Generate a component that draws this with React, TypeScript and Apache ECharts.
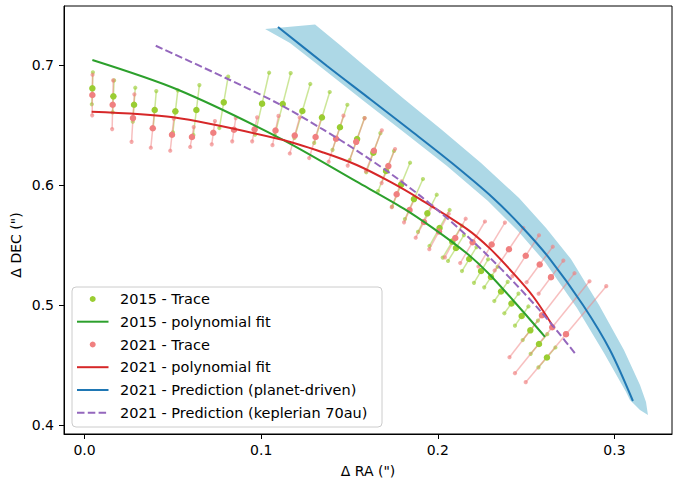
import React, { useEffect, useRef } from 'react';
import * as echarts from 'echarts';

// ---- 2015 trace ----
const trace2015X = [0.0044, 0.0163, 0.0280, 0.0397, 0.0514, 0.0633, 0.0788, 0.1005, 0.1122, 0.1233, 0.1344, 0.1446, 0.1543, 0.1635, 0.1707, 0.1792, 0.1865, 0.1941, 0.2010, 0.2082, 0.2103, 0.2178, 0.2245, 0.2301, 0.2358, 0.2417, 0.2475, 0.2524, 0.2573, 0.2618];
const trace2015Y = [0.6806, 0.6739, 0.6669, 0.6625, 0.6614, 0.6625, 0.6689, 0.6678, 0.6675, 0.6617, 0.6563, 0.6481, 0.6383, 0.6269, 0.6117, 0.6003, 0.5883, 0.5764, 0.5642, 0.5528, 0.5475, 0.5383, 0.5283, 0.5233, 0.5113, 0.5013, 0.4908, 0.4789, 0.4675, 0.4563];
const trace2015ErrX = [0.0003, 0.0004, 0.0007, 0.0009, 0.0014, 0.0017, 0.0025, 0.0040, 0.0045, 0.0045, 0.0044, 0.0042, 0.0042, 0.0040, 0.0045, 0.0051, 0.0051, 0.0053, 0.0057, 0.0054, 0.0045, 0.0041, 0.0040, 0.0038, 0.0038, 0.0040, 0.0038, 0.0043, 0.0047, 0.0048];
const trace2015ErrY = [0.0133, 0.0133, 0.0142, 0.0158, 0.0175, 0.0208, 0.0214, 0.0258, 0.0258, 0.0225, 0.0212, 0.0188, 0.0175, 0.0163, 0.0167, 0.0183, 0.0167, 0.0155, 0.0150, 0.0133, 0.0108, 0.0100, 0.0098, 0.0086, 0.0080, 0.0082, 0.0080, 0.0081, 0.0082, 0.0083];

// ---- 2021 trace ----
const trace2021X = [0.0044, 0.0159, 0.0274, 0.0386, 0.0495, 0.0608, 0.0729, 0.0846, 0.0963, 0.1081, 0.1190, 0.1308, 0.1424, 0.1538, 0.1638, 0.1720, 0.1767, 0.1840, 0.1922, 0.2007, 0.2099, 0.2197, 0.2305, 0.2403, 0.2498, 0.2577, 0.2641, 0.2590, 0.2648, 0.2726];
const trace2021Y = [0.6750, 0.6669, 0.6558, 0.6473, 0.6419, 0.6400, 0.6436, 0.6461, 0.6464, 0.6454, 0.6413, 0.6400, 0.6386, 0.6360, 0.6286, 0.6158, 0.5923, 0.5792, 0.5692, 0.5613, 0.5558, 0.5523, 0.5504, 0.5465, 0.5411, 0.5338, 0.5232, 0.4915, 0.4815, 0.4757];
const trace2021ErrX = [0.0001, 0.0003, 0.0008, 0.0011, 0.0010, 0.0010, 0.0009, 0.0010, 0.0014, 0.0017, 0.0028, 0.0036, 0.0042, 0.0048, 0.0045, 0.0038, 0.0028, 0.0031, 0.0047, 0.0055, 0.0059, 0.0070, 0.0075, 0.0081, 0.0075, 0.0074, 0.0070, 0.0184, 0.0211, 0.0228];
const trace2021ErrY = [0.0169, 0.0203, 0.0198, 0.0162, 0.0133, 0.0083, 0.0097, 0.0097, 0.0100, 0.0122, 0.0150, 0.0175, 0.0192, 0.0198, 0.0170, 0.0142, 0.0108, 0.0103, 0.0131, 0.0148, 0.0161, 0.0173, 0.0183, 0.0177, 0.0170, 0.0148, 0.0138, 0.0350, 0.0383, 0.0400];

// ---- polynomial fits ----
const fit2015X = [0.0044, 0.0522, 0.1107, 0.1541, 0.1805, 0.1975, 0.2164, 0.2296, 0.2466, 0.2607];
const fit2015Y = [0.7042, 0.6798, 0.6389, 0.6028, 0.5806, 0.5639, 0.5431, 0.5250, 0.4973, 0.4735];
const fit2021X = [0.0040, 0.0502, 0.1107, 0.1352, 0.1541, 0.1729, 0.1899, 0.2164, 0.2296, 0.2428, 0.2541, 0.2654];
const fit2021Y = [0.6611, 0.6564, 0.6381, 0.6271, 0.6167, 0.6028, 0.5883, 0.5635, 0.5470, 0.5264, 0.5069, 0.4819];

// ---- predictions ----
const keplerX = [0.0403, 0.0805, 0.1097, 0.1352, 0.1541, 0.1729, 0.1890, 0.2013, 0.2164, 0.2296, 0.2428, 0.2579, 0.2673, 0.2787];
const keplerY = [0.7161, 0.6888, 0.6678, 0.6461, 0.6287, 0.6099, 0.5922, 0.5774, 0.5578, 0.5393, 0.5195, 0.4953, 0.4789, 0.4578];
const planetX = [0.1095, 0.1373, 0.1616, 0.1843, 0.2080, 0.2313, 0.2482, 0.2635, 0.2822, 0.2975, 0.3105];
const planetY = [0.7317, 0.6992, 0.6717, 0.6458, 0.6183, 0.5892, 0.5642, 0.5383, 0.5000, 0.4625, 0.4200];

// uncertainty band of the planet-driven prediction (outline: top edge, outer edge down, inner edge up)
const bandX = [0.1022, 0.1305, 0.1446, 0.1576, 0.1809, 0.2024, 0.2245, 0.2460, 0.2613, 0.2754, 0.2913, 0.3054, 0.3145, 0.3179, 0.3190, 0.3145, 0.3088, 0.3066, 0.2941, 0.2788, 0.2607, 0.2454, 0.2284, 0.2052, 0.1814, 0.1588, 0.1344, 0.1163];
const bandY = [0.7300, 0.7338, 0.7167, 0.7004, 0.6717, 0.6458, 0.6183, 0.5892, 0.5642, 0.5383, 0.5000, 0.4625, 0.4333, 0.4192, 0.4083, 0.4125, 0.4208, 0.4275, 0.4600, 0.4975, 0.5358, 0.5617, 0.5867, 0.6158, 0.6433, 0.6692, 0.6975, 0.7183];

const xTicks = [0.0, 0.1, 0.2, 0.3];
const yTicks = [0.4, 0.5, 0.6, 0.7];

const legendLabels = [
  '2015 - Trace',
  '2015 - polynomial fit',
  '2021 - Trace',
  '2021 - polynomial fit',
  '2021 - Prediction (planet-driven)',
  '2021 - Prediction (keplerian 70au)',
];

const C_G_TRACE = '#9acd32';
const C_R_TRACE = '#f08080';
const C_G_FIT = '#2ca02c';
const C_R_FIT = '#d62728';
const C_BLUE = '#1f77b4';
const C_PURPLE = '#9467bd';
const C_BAND = '#add8e6';
const FONT = 'DejaVu Sans';

function zip(xs: number[], ys: number[]) {
  return xs.map((x, i) => [x, ys[i]]);
}

function errorBars(name: string, xs: number[], ys: number[], ex: number[], ey: number[], color: string) {
  return {
    type: 'custom',
    name,
    silent: true,
    z: 2,
    encode: { x: 0, y: 1 },
    data: xs.map((x, i) => [x, ys[i], ex[i], ey[i]]),
    renderItem: (params: any, api: any) => {
      const x = api.value(0);
      const y = api.value(1);
      const dx = api.value(2);
      const dy = api.value(3);
      const a = api.coord([x - dx, y - dy]);
      const b = api.coord([x + dx, y + dy]);
      return {
        type: 'group',
        children: [
          { type: 'line', shape: { x1: a[0], y1: a[1], x2: b[0], y2: b[1] }, style: { stroke: color, lineWidth: 1.5, opacity: 0.5 } },
          { type: 'circle', shape: { cx: a[0], cy: a[1], r: 2.1 }, style: { fill: color, opacity: 0.65 } },
          { type: 'circle', shape: { cx: b[0], cy: b[1], r: 2.1 }, style: { fill: color, opacity: 0.65 } },
        ],
      };
    },
  };
}

function legendGraphic() {
  const rowY = [12, 34.7, 57.5, 80.2, 103, 125.7];
  const children: any[] = [
    { type: 'rect', shape: { x: 0, y: 0, width: 310, height: 140, r: 4 }, style: { fill: 'rgba(255,255,255,0.8)', stroke: '#cccccc', lineWidth: 1 } },
  ];
  const kinds = [
    { k: 'dot', c: C_G_TRACE },
    { k: 'line', c: C_G_FIT },
    { k: 'dot', c: C_R_TRACE },
    { k: 'line', c: C_R_FIT },
    { k: 'line', c: C_BLUE },
    { k: 'dash', c: C_PURPLE },
  ];
  kinds.forEach((it, i) => {
    const y = rowY[i];
    if (it.k === 'dot') {
      children.push({ type: 'circle', shape: { cx: 20.7, cy: y, r: 3 }, style: { fill: it.c } });
    } else {
      children.push({
        type: 'line',
        shape: { x1: 5, y1: y, x2: 36.5, y2: y },
        style: { stroke: it.c, lineWidth: 2, lineDash: it.k === 'dash' ? [7.5, 3.3] : null },
      });
    }
    children.push({
      type: 'text',
      x: 48,
      y,
      style: { text: legendLabels[i], fill: '#000', fontSize: 14.5, fontFamily: FONT, verticalAlign: 'middle', align: 'left' },
    });
  });
  return { type: 'group', x: 72, y: 287, z: 100, children };
}

export default function App() {
  const ref = useRef<HTMLDivElement>(null);
  useEffect(() => {
    if (!ref.current) return;
    const chart = echarts.init(ref.current, null, { renderer: 'svg' });
    const option: any = {
      animation: false,
      backgroundColor: '#ffffff',
      grid: { left: 64, right: 1, top: 6, bottom: 50, show: true, borderColor: '#000', borderWidth: 1, backgroundColor: 'transparent' },
      xAxis: {
        type: 'value',
        min: -0.01166,
        max: 0.33262,
        splitLine: { show: false },
        axisLine: { show: true, onZero: false, lineStyle: { color: '#000', width: 1 } },
        axisTick: { show: true, inside: false, length: 5, customValues: xTicks, lineStyle: { color: '#000', width: 1 } },
        axisLabel: { customValues: xTicks, formatter: (v: number) => v.toFixed(1), color: '#000', fontSize: 14, fontFamily: FONT, margin: 9 },
        name: 'Δ RA (")',
        nameLocation: 'middle',
        nameGap: 30,
        nameTextStyle: { color: '#000', fontSize: 14, fontFamily: FONT },
      },
      yAxis: {
        type: 'value',
        min: 0.3925,
        max: 0.7492,
        splitLine: { show: false },
        axisLine: { show: true, onZero: false, lineStyle: { color: '#000', width: 1 } },
        axisTick: { show: true, inside: false, length: 5, customValues: yTicks, lineStyle: { color: '#000', width: 1 } },
        axisLabel: { customValues: yTicks, formatter: (v: number) => v.toFixed(1), color: '#000', fontSize: 14, fontFamily: FONT, margin: 10 },
      },
      series: [
        {
          type: 'custom',
          name: 'band',
          silent: true,
          z: 1,
          encode: { x: 0, y: 1 },
          data: zip(bandX, bandY),
          renderItem: (params: any, api: any) => {
            if (params.dataIndex !== 0) return null;
            const pts = bandX.map((x, i) => api.coord([x, bandY[i]]));
            return { type: 'polygon', shape: { points: pts }, style: { fill: C_BAND, stroke: 'none' } };
          },
        },
        errorBars('2015 err', trace2015X, trace2015Y, trace2015ErrX, trace2015ErrY, C_G_TRACE),
        errorBars('2021 err', trace2021X, trace2021Y, trace2021ErrX, trace2021ErrY, C_R_TRACE),
        {
          type: 'scatter', name: legendLabels[0], z: 3, symbol: 'circle', symbolSize: 6.5,
          itemStyle: { color: C_G_TRACE, opacity: 1 }, data: zip(trace2015X, trace2015Y), silent: true,
        },
        {
          type: 'scatter', name: legendLabels[2], z: 3, symbol: 'circle', symbolSize: 6.5,
          itemStyle: { color: C_R_TRACE, opacity: 1 }, data: zip(trace2021X, trace2021Y), silent: true,
        },
        {
          type: 'line', name: legendLabels[1], z: 4, showSymbol: false, symbol: 'none', smooth: 0.3,
          lineStyle: { color: C_G_FIT, width: 2 }, data: zip(fit2015X, fit2015Y), silent: true,
        },
        {
          type: 'line', name: legendLabels[3], z: 4, showSymbol: false, symbol: 'none', smooth: 0.3,
          lineStyle: { color: C_R_FIT, width: 2 }, data: zip(fit2021X, fit2021Y), silent: true,
        },
        {
          type: 'line', name: legendLabels[4], z: 4, showSymbol: false, symbol: 'none', smooth: 0.3,
          lineStyle: { color: C_BLUE, width: 2 }, data: zip(planetX, planetY), silent: true,
        },
        {
          type: 'line', name: legendLabels[5], z: 4, showSymbol: false, symbol: 'none', smooth: 0.3,
          lineStyle: { color: C_PURPLE, width: 2, type: [7.5, 3.3] }, data: zip(keplerX, keplerY), silent: true,
        },
      ],
      graphic: [
        legendGraphic(),
        {
          type: 'text',
          x: 16,
          y: 245,
          rotation: Math.PI / 2,
          style: { text: 'Δ DEC (")', fill: '#000', fontSize: 14, fontFamily: FONT, align: 'center', verticalAlign: 'middle' },
        },
      ],
    };
    chart.setOption(option);
    return () => chart.dispose();
  }, []);
  return <div ref={ref} style={{ position: 'absolute', left: 0, top: 0, width: 673, height: 484 }} />;
}
